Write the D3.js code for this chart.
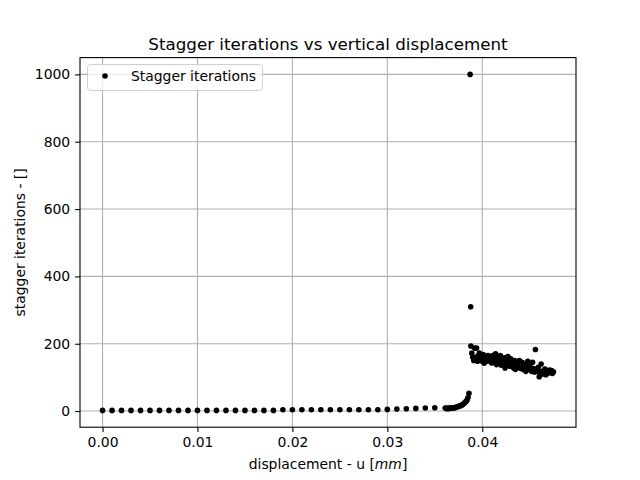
<!DOCTYPE html>
<html><head><meta charset="utf-8">
<script src="https://cdn.jsdelivr.net/npm/d3@7"></script>
<style>body{margin:0;background:#fff}svg{font-family:"DejaVu Sans",sans-serif}</style>
</head><body><svg id="c" width="640" height="480"></svg>
<script>
// sparse early steps
const xEarly = d3.range(36).map(i => +(i*0.001).toFixed(3));
const yEarly = [2,2,2,2,2,2,2,2,2,2,2,2,2,2,2,2,2,2,2,4,4,4,4,4,4,4,4,4,4,4,5,6,7,8,9,10];
// dense rise before instability
const xRise = d3.range(26).map(i => +(0.0361 + i*0.0001).toFixed(4));
const yRise = [9,8,8,8,8,9,9,9,10,10,10,11,12,13,14,15,16,17,19,21,23,26,29,33,40,53];
// spikes
const xSpike = [0.03872, 0.03878];
const ySpike = [1000, 310];
// scattered cluster after instability
const xCluster = d3.range(88).map(i => +(0.0388 + i*0.0001).toFixed(4));
const yCluster = [193,172,160,150,187,160,187,148,165,172,152,160,148,168,142,160,155,148,165,150,
  160,150,143,165,158,148,170,138,160,146,155,165,136,150,143,158,128,150,140,162,
  148,133,155,138,148,128,150,124,140,145,133,150,128,126,145,133,123,140,118,130,
  148,128,136,122,118,145,126,116,183,123,118,130,102,108,140,118,110,116,125,108,
  120,113,118,122,114,120,112,117];
const xTicks = [0.00,0.01,0.02,0.03,0.04];
const yTicks = [0,200,400,600,800,1000];
const seriesName = "Stagger iterations";

const xs = [...xEarly, ...xRise, ...xSpike, ...xCluster];
const ys = [...yEarly, ...yRise, ...ySpike, ...yCluster];
const data = xs.map((x,i)=>({x, y: ys[i]}));

const svg = d3.select("#c");
const L=80, R=576, T=57.6, B=427.2;
const xmin=d3.min(xs), xmax=d3.max(xs), ymin=d3.min(ys), ymax=d3.max(ys);
const xm=(xmax-xmin)*0.05, ym=(ymax-ymin)*0.05;
const x = d3.scaleLinear().domain([xmin-xm, xmax+xm]).range([L,R]);
const y = d3.scaleLinear().domain([ymin-ym, ymax+ym]).range([B,T]);

// grid
const g = svg.append("g");
g.selectAll(".gx").data(xTicks).enter().append("line")
  .attr("x1",d=>x(d)).attr("x2",d=>x(d)).attr("y1",T).attr("y2",B)
  .attr("stroke","#b0b0b0").attr("stroke-width",1.1);
g.selectAll(".gy").data(yTicks).enter().append("line")
  .attr("y1",d=>y(d)).attr("y2",d=>y(d)).attr("x1",L).attr("x2",R)
  .attr("stroke","#b0b0b0").attr("stroke-width",1.1);

// points
svg.append("g").selectAll("circle").data(data).enter().append("circle")
  .attr("cx",d=>x(d.x)).attr("cy",d=>y(d.y)).attr("r",2.8).attr("fill","#000");

// axes
const xa = svg.append("g").attr("transform",`translate(0,${B})`)
  .call(d3.axisBottom(x).tickValues(xTicks).tickFormat(d3.format(".2f")).tickSizeOuter(0).tickSize(4.9).tickPadding(4.9));
const ya = svg.append("g").attr("transform",`translate(${L},0)`)
  .call(d3.axisLeft(y).tickValues(yTicks).tickFormat(d3.format("d")).tickSizeOuter(0).tickSize(4.9).tickPadding(4.9));
[xa,ya].forEach(a=>{a.select(".domain").remove();a.selectAll("text").attr("font-size","13.9px").attr("fill","#000").attr("font-family","DejaVu Sans");a.selectAll("line").attr("stroke","#000").attr("stroke-width",1.1);});

svg.append("rect").attr("x",L).attr("y",T).attr("width",R-L).attr("height",B-T)
  .attr("fill","none").attr("stroke","#000").attr("stroke-width",1.1);

// labels
svg.append("text").attr("x",(L+R)/2).attr("y",50).attr("text-anchor","middle")
  .attr("font-size","16.7px").text("Stagger iterations vs vertical displacement");
const xl = svg.append("text").attr("x",(L+R)/2).attr("y",469).attr("text-anchor","middle").attr("font-size","13.9px");
xl.append("tspan").text("displacement - u [");
xl.append("tspan").attr("font-style","italic").text("mm");
xl.append("tspan").text("]");
svg.append("text").attr("transform",`translate(25,${(T+B)/2}) rotate(-90)`).attr("text-anchor","middle")
  .attr("font-size","13.9px").text("stagger iterations - []");

// legend
const lg = svg.append("g");
lg.append("rect").attr("x",87.5).attr("y",64.5).attr("width",175).attr("height",26).attr("rx",3)
  .attr("fill","#fff").attr("fill-opacity",0.8).attr("stroke","#d0d0d0");
lg.append("circle").attr("cx",105).attr("cy",76).attr("r",2.8).attr("fill","#000");
lg.append("text").attr("x",131).attr("y",81).attr("font-size","13.9px").text(seriesName);
</script></body></html>
